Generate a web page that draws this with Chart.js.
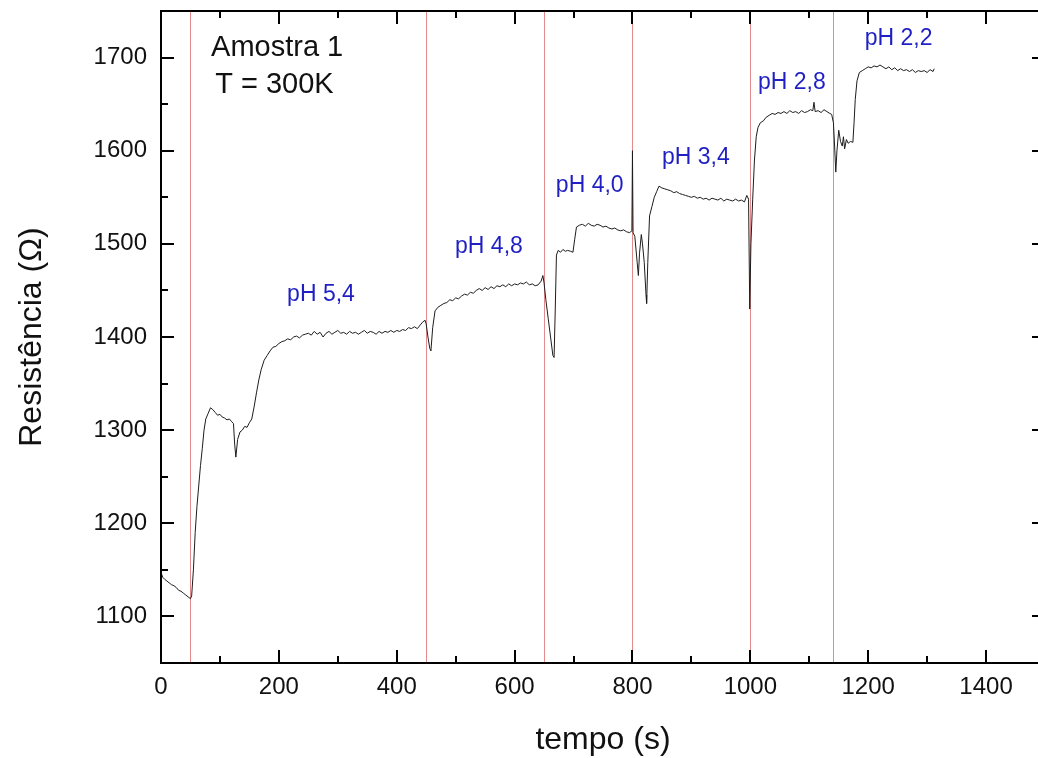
<!DOCTYPE html>
<html lang="pt">
<head>
    <meta charset="UTF-8">
    <title>Resistência x tempo - Amostra 1</title>
    <script src="https://cdn.jsdelivr.net/npm/chart.js"></script>
    <style>
        html, body {
            margin: 0;
            padding: 0;
            background: #fff;
            overflow: hidden;
        }
        .chart-container {
            width: 1060px;
            height: 758px;
        }
    </style>
</head>
<body>
    <div class="chart-container">
        <canvas id="myChart" width="1060" height="758"></canvas>
    </div>

    <script>
        // tempo (s) e resistência (ohm)
        const tempo = [
            0, 3, 6, 10, 14, 18, 22, 26, 30, 34, 38, 42, 46, 50, 52,
            55, 58, 61, 64, 67, 70, 73, 76, 80, 84, 88, 92, 96, 100, 104, 108, 112, 116, 120, 123, 125, 127,
            130, 134, 138, 142, 146, 150, 154, 158, 162, 166, 170, 175, 180, 185, 190, 195, 200,
            205, 210, 215, 220, 225, 230, 235, 240, 245, 250, 255, 260, 265, 270, 275, 280, 285, 290, 295, 300,
            305, 310, 315, 320, 325, 330, 335, 340, 345, 350, 355, 360, 365, 370, 375, 380, 385, 390, 395, 400,
            405, 410, 415, 420, 425, 430, 435, 440, 444, 448, 450, 453, 456, 458, 461, 465,
            470, 475, 480, 485, 490, 495, 500, 505, 510, 515, 520, 525, 530, 535, 540, 545, 550, 555, 560,
            565, 570, 575, 580, 585, 590, 595, 600, 605, 610, 615, 620, 625, 630, 635, 640, 645, 648,
            650, 653, 657, 661, 665, 667, 669, 671, 674, 678, 682, 686, 690, 695, 699, 702, 705,
            710, 715, 720, 725, 730, 735, 740, 745, 750, 755, 760, 765, 770, 775, 780, 785, 790, 795, 799,
            800, 801, 804, 808, 810, 812, 815, 817, 820, 823, 824, 826, 829, 833, 837, 841, 845,
            850, 855, 860, 865, 870, 875, 880, 885, 890, 895, 900, 905, 910, 915, 920, 925, 930, 935, 940,
            945, 950, 955, 960, 965, 970, 975, 980, 985, 990, 994, 997, 999,
            1001, 1004, 1007, 1010, 1013, 1017, 1022, 1027, 1032, 1037, 1042, 1047, 1052, 1057, 1062, 1067,
            1072, 1077, 1082, 1087, 1092, 1097, 1102, 1106, 1108, 1110, 1115, 1120, 1125, 1130, 1135, 1138,
            1141, 1143, 1145, 1147, 1150, 1153, 1156, 1158, 1160, 1163, 1166, 1170, 1174, 1176, 1178, 1181,
            1185, 1190, 1195, 1200, 1205, 1210, 1215, 1220, 1225, 1230, 1235, 1240, 1245, 1250, 1255, 1260,
            1265, 1270, 1275, 1280, 1285, 1290, 1295, 1300, 1305, 1310, 1312
        ];
        const resistencia = [
            1147, 1142, 1140, 1138, 1136, 1134, 1133, 1131, 1128, 1127, 1125, 1123, 1121, 1119, 1122,
            1150, 1190, 1218, 1240, 1262, 1280, 1300, 1312, 1318, 1324, 1322, 1319, 1316, 1317, 1314, 1313, 1311, 1312, 1309, 1307, 1285, 1271,
            1290, 1298, 1300, 1304, 1303, 1308, 1312, 1325, 1340, 1354, 1365, 1375, 1380, 1385, 1389, 1390, 1393,
            1395, 1396, 1398, 1397, 1400, 1401, 1399, 1402, 1403, 1404, 1402, 1406, 1403, 1405, 1400, 1404, 1406, 1403, 1405, 1407,
            1404, 1405, 1403, 1406, 1404, 1405, 1403, 1405, 1407, 1404, 1406, 1405, 1403, 1406, 1404, 1406, 1405, 1407, 1405, 1407,
            1406, 1408, 1407, 1410, 1409, 1411, 1409, 1413, 1416, 1418, 1414, 1400, 1388, 1385, 1410, 1428,
            1432, 1434, 1436, 1437, 1440, 1439, 1442, 1441, 1444, 1446, 1445, 1448, 1447, 1450, 1452, 1450, 1453, 1451, 1454,
            1452, 1455, 1454, 1456, 1454, 1457, 1455, 1457, 1456, 1458, 1457, 1459, 1456, 1457, 1455, 1456, 1460, 1466,
            1458, 1440, 1420, 1400, 1380, 1378, 1430, 1488, 1493, 1491, 1494, 1492, 1493, 1492, 1491, 1505, 1518,
            1520, 1521, 1519, 1522, 1520, 1519, 1521, 1520, 1518, 1519, 1517, 1516, 1517, 1515, 1514, 1515, 1513, 1512, 1514,
            1600, 1512, 1508, 1480, 1466, 1490, 1510, 1500, 1480, 1445, 1436, 1480, 1530, 1540, 1550, 1556, 1562,
            1560, 1559, 1558, 1557, 1555, 1556, 1554, 1553, 1552, 1551, 1550, 1551, 1549, 1550, 1548, 1549, 1547, 1549, 1548,
            1547, 1549, 1546, 1548, 1547, 1546, 1548, 1546, 1547, 1545, 1552, 1548, 1430,
            1500, 1548, 1590, 1615, 1625, 1630, 1632, 1636, 1638, 1640, 1639, 1641, 1640, 1642, 1640, 1643,
            1641, 1642, 1640, 1643, 1641, 1642, 1644, 1643, 1652, 1642, 1643, 1641, 1644, 1642, 1640, 1639,
            1630, 1605, 1577, 1600, 1622, 1610, 1605, 1615, 1602, 1612, 1608, 1610, 1609, 1630, 1655, 1675,
            1684, 1686, 1688, 1690, 1689, 1691, 1690, 1692, 1690, 1688, 1690, 1687, 1689, 1686, 1688, 1686,
            1687, 1685, 1687, 1684, 1686, 1685, 1686, 1684, 1687, 1685, 1688
        ];

        // instantes de troca de pH (linhas vermelhas)
        const trocasPH = [50, 450, 650, 800, 1000, 1140];
        const rotulosPH = ['pH 5,4', 'pH 4,8', 'pH 4,0', 'pH 3,4', 'pH 2,8', 'pH 2,2'];
        const xTicks = [0, 200, 400, 600, 800, 1000, 1200, 1400];
        const yTicks = [1100, 1200, 1300, 1400, 1500, 1600, 1700];

        // onde escrever cada rótulo (canto esquerdo / linha de base, em unidades dos eixos)
        const posRotulos = [[214, 1439], [499, 1490], [670, 1556], [850, 1586], [1013, 1666], [1194, 1714]];

        const FONTE = "'Liberation Sans', Arial, sans-serif";

        const moldura = {
            id: 'moldura',
            beforeDatasetsDraw(chart) {
                const { ctx, chartArea: a, scales: { x } } = chart;
                ctx.save();
                ctx.strokeStyle = '#e58a8a';
                ctx.lineWidth = 1;
                trocasPH.forEach(t => {
                    const px = Math.round(x.getPixelForValue(t)) + 0.5;
                    ctx.beginPath();
                    ctx.moveTo(px, a.top);
                    ctx.lineTo(px, a.bottom);
                    ctx.stroke();
                });
                ctx.restore();
            },
            afterDatasetsDraw(chart) {
                const { ctx, chartArea: a, scales: { x, y } } = chart;
                ctx.save();
                ctx.strokeStyle = '#000';
                ctx.lineWidth = 2;
                ctx.strokeRect(a.left, a.top, a.right - a.left, a.bottom - a.top);

                // marcas para dentro, nos quatro lados
                ctx.beginPath();
                for (let v = x.min; v <= x.max; v += 100) {
                    const px = Math.round(x.getPixelForValue(v));
                    const len = v % 200 === 0 ? 13 : 7;
                    ctx.moveTo(px, a.bottom); ctx.lineTo(px, a.bottom - len);
                    ctx.moveTo(px, a.top); ctx.lineTo(px, a.top + len);
                }
                for (let v = y.min; v <= y.max; v += 50) {
                    const py = Math.round(y.getPixelForValue(v));
                    const len = v % 100 === 0 ? 13 : 7;
                    ctx.moveTo(a.left, py); ctx.lineTo(a.left + len, py);
                    ctx.moveTo(a.right, py); ctx.lineTo(a.right - len, py);
                }
                ctx.stroke();

                ctx.textBaseline = 'alphabetic';
                ctx.textAlign = 'left';
                ctx.fillStyle = '#1f1fc4';
                ctx.font = '23px ' + FONTE;
                rotulosPH.forEach((txt, i) => {
                    const [tx, ty] = posRotulos[i];
                    ctx.fillText(txt, x.getPixelForValue(tx), y.getPixelForValue(ty));
                });

                ctx.fillStyle = '#111';
                ctx.font = '29px ' + FONTE;
                ctx.fillText('Amostra 1', x.getPixelForValue(85), y.getPixelForValue(1702));
                ctx.fillText('T = 300K', x.getPixelForValue(92), y.getPixelForValue(1662));
                ctx.restore();
            }
        };

        const ctx = document.getElementById('myChart').getContext('2d');
        new Chart(ctx, {
            type: 'line',
            data: {
                datasets: [{
                    label: 'Resistência',
                    data: tempo.map((t, i) => ({ x: t, y: resistencia[i] })),
                    borderColor: '#1c1c1c',
                    borderWidth: 1,
                    pointRadius: 0,
                    tension: 0,
                    fill: false
                }]
            },
            options: {
                responsive: false,
                devicePixelRatio: 1,
                animation: false,
                layout: { padding: { top: 11, right: 15, left: 0, bottom: 0 } },
                plugins: {
                    legend: { display: false },
                    tooltip: { enabled: false }
                },
                scales: {
                    x: {
                        type: 'linear',
                        min: 0,
                        max: 1500,
                        grid: { display: false, drawTicks: false },
                        border: { display: false },
                        afterBuildTicks: s => { s.ticks = xTicks.map(v => ({ value: v })); },
                        afterFit: s => { s.height = 95; s.paddingLeft = 0; s.paddingRight = 0; },
                        ticks: {
                            color: '#111',
                            padding: 10,
                            maxRotation: 0,
                            callback: v => String(v),
                            font: { family: FONTE, size: 24 }
                        },
                        title: {
                            display: true,
                            text: 'tempo (s)',
                            color: '#111',
                            padding: 2,
                            font: { family: FONTE, size: 32, lineHeight: 1 }
                        }
                    },
                    y: {
                        min: 1050,
                        max: 1750,
                        grid: { display: false, drawTicks: false },
                        border: { display: false },
                        afterBuildTicks: s => { s.ticks = yTicks.map(v => ({ value: v })); },
                        afterFit: s => { s.width = 161; s.paddingTop = 0; s.paddingBottom = 0; },
                        ticks: {
                            color: '#111',
                            padding: 14,
                            callback: v => String(v),
                            font: { family: FONTE, size: 24 }
                        },
                        title: {
                            display: true,
                            text: 'Resistência (Ω)',
                            color: '#111',
                            padding: 16,
                            font: { family: FONTE, size: 32, lineHeight: 1 }
                        }
                    }
                }
            },
            plugins: [moldura]
        });
    </script>
</body>
</html>
